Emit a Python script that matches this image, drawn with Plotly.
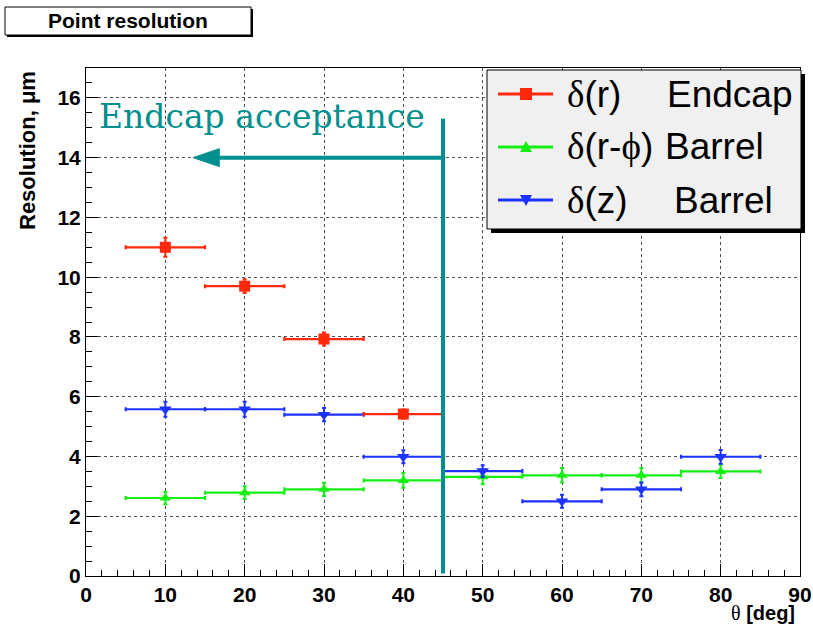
import plotly.graph_objects as go

# ---------------- data ----------------
endcap_theta = [10, 20, 30, 40]
endcap_theta_err = [5, 5, 5, 5]
endcap_r = [11.0, 9.70, 7.93, 5.42]
endcap_r_err = [0.32, 0.23, 0.22, 0.15]

barrel_theta = [10, 20, 30, 40, 50, 60, 70, 80]
barrel_theta_err = [5, 5, 5, 5, 5, 5, 5, 5]
barrel_rphi = [2.61, 2.79, 2.90, 3.20, 3.32, 3.37, 3.37, 3.50]
barrel_rphi_err = [0.21, 0.21, 0.22, 0.25, 0.25, 0.24, 0.24, 0.22]
barrel_z = [5.58, 5.58, 5.40, 3.99, 3.51, 2.50, 2.90, 3.99]
barrel_z_err = [0.25, 0.25, 0.22, 0.22, 0.20, 0.22, 0.23, 0.23]

x_tick_vals = [0, 10, 20, 30, 40, 50, 60, 70, 80, 90]
y_tick_vals = [0, 2, 4, 6, 8, 10, 12, 14, 16]

ACCEPT_EDGE = 45      # endcap acceptance edge (deg)
ACCEPT_TOP = 15.3
ARROW_Y = 14
ARROW_TIP = 13.5
ARROW_BASE = 16.8

RED = "rgb(255,40,10)"
GREEN = "rgb(20,240,20)"
BLUE = "rgb(30,50,255)"
TEAL = "rgb(0,143,143)"

# plot-area pixel box
PL, PR, PT, PB = 86, 800, 68, 576
W, H = 813, 627


def px(x):
    return (x - PL) / (PR - PL)


def py(y):
    return (PB - y) / (PB - PT)


fig = go.Figure()


def add_series(x, xe, y, ye, color, symbol, size, name):
    fig.add_trace(go.Scatter(
        x=x, y=y, mode="markers", name=name, showlegend=False,
        marker=dict(color=color, symbol=symbol, size=size, line=dict(width=0)),
        error_x=dict(type="data", array=xe, color=color, thickness=2.2, width=2),
        error_y=dict(type="data", array=ye, color=color, thickness=2, width=2),
    ))


add_series(barrel_theta, barrel_theta_err, barrel_rphi, barrel_rphi_err, GREEN, "triangle-up", 10, "δ(r-ϕ) Barrel")
add_series(barrel_theta, barrel_theta_err, barrel_z, barrel_z_err, BLUE, "triangle-down", 11, "δ(z) Barrel")
add_series(endcap_theta, endcap_theta_err, endcap_r, endcap_r_err, RED, "square", 11, "δ(r) Endcap")

shapes = []
# acceptance line and arrow
shapes.append(dict(type="line", xref="x", yref="y", x0=ACCEPT_EDGE, x1=ACCEPT_EDGE, y0=0.08, y1=ACCEPT_TOP,
                   line=dict(color=TEAL, width=4)))
shapes.append(dict(type="line", xref="x", yref="y", x0=ACCEPT_EDGE, x1=ARROW_BASE, y0=ARROW_Y, y1=ARROW_Y,
                   line=dict(color=TEAL, width=4)))
shapes.append(dict(type="path", xref="x", yref="y",
                   path=f"M {ARROW_TIP},{ARROW_Y} L {ARROW_BASE},{ARROW_Y + 0.3} L {ARROW_BASE},{ARROW_Y - 0.3} Z",
                   fillcolor=TEAL, line=dict(color=TEAL, width=1)))

# title box
shapes.append(dict(type="rect", xref="paper", yref="paper", x0=px(7), x1=px(253), y0=py(37), y1=py(9),
                   fillcolor="black", line=dict(width=0)))
shapes.append(dict(type="rect", xref="paper", yref="paper", x0=px(5), x1=px(251), y0=py(35), y1=py(7),
                   fillcolor="white", line=dict(color="black", width=1)))

# legend box
shapes.append(dict(type="rect", xref="paper", yref="paper", x0=px(491), x1=px(805), y0=py(233), y1=py(74),
                   fillcolor="black", line=dict(width=0)))
shapes.append(dict(type="rect", xref="paper", yref="paper", x0=px(487), x1=px(801), y0=py(229), y1=py(70),
                   fillcolor="rgb(240,240,240)", line=dict(color="black", width=1)))

rows = [94, 147, 200]
cols = [RED, GREEN, BLUE]
for ry, c in zip(rows, cols):
    shapes.append(dict(type="line", xref="paper", yref="paper", x0=px(498), x1=px(553), y0=py(ry), y1=py(ry),
                       line=dict(color=c, width=3)))
# legend markers
mx = 526
s = 6
shapes.append(dict(type="path", xref="paper", yref="paper",
                   path=f"M {px(mx-s)},{py(rows[0]-s)} L {px(mx+s)},{py(rows[0]-s)} L {px(mx+s)},{py(rows[0]+s)} L {px(mx-s)},{py(rows[0]+s)} Z",
                   fillcolor=RED, line=dict(width=0)))
t = 6
shapes.append(dict(type="path", xref="paper", yref="paper",
                   path=f"M {px(mx)},{py(rows[1]-t)} L {px(mx+t)},{py(rows[1]+t-1)} L {px(mx-t)},{py(rows[1]+t-1)} Z",
                   fillcolor=GREEN, line=dict(width=0)))
shapes.append(dict(type="path", xref="paper", yref="paper",
                   path=f"M {px(mx)},{py(rows[2]+t)} L {px(mx+t)},{py(rows[2]-t+1)} L {px(mx-t)},{py(rows[2]-t+1)} Z",
                   fillcolor=BLUE, line=dict(width=0)))

SERIF = "font-family:'Liberation Serif'"
ann = []


def label(x, y, text, size, xanchor="left", yanchor="middle", family="Liberation Sans", weight="normal",
          color="black", angle=0):
    ann.append(dict(xref="paper", yref="paper", x=px(x), y=py(y), text=text, showarrow=False,
                    xanchor=xanchor, yanchor=yanchor, textangle=angle,
                    font=dict(family=family, size=size, color=color, weight=weight)))


label(565, rows[0], f"<span style=\"{SERIF}\">δ</span>(r)", 37)
label(665, rows[0], "Endcap", 37)
label(565, rows[1], f"<span style=\"{SERIF}\">δ</span>(r-<span style=\"{SERIF}\">ϕ</span>)", 37)
label(663, rows[1], "Barrel", 37)
label(565, rows[2], f"<span style=\"{SERIF}\">δ</span>(z)", 37)
label(672, rows[2], "Barrel", 37)

label(128, 21, "Point resolution", 21, xanchor="center", weight="bold")
label(27, 151, "Resolution, μm", 22, xanchor="center", weight="bold", angle=-90)
label(797, 613, f"<span style=\"{SERIF};font-weight:normal\">θ</span> [deg]", 20, xanchor="right", weight="bold")
label(97, 116, "Endcap acceptance", 33, family="DejaVu Serif", color=TEAL)

axis_common = dict(
    ticks="inside", ticklen=12, tickwidth=1, tickcolor="black",
    showline=True, linecolor="black", linewidth=1, mirror=True,
    showgrid=True, gridcolor="rgb(80,80,80)", griddash="dot", gridwidth=1,
    zeroline=False, automargin=False,
    tickfont=dict(family="Liberation Sans", size=21, color="black", weight="bold"),
)

fig.update_layout(
    width=W, height=H,
    margin=dict(l=PL, r=W - PR, t=PT, b=H - PB, pad=0),
    paper_bgcolor="white", plot_bgcolor="white",
    xaxis=dict(range=[0, 90], tickvals=x_tick_vals,
               minor=dict(dtick=2, ticks="inside", ticklen=6, tickcolor="black", showgrid=False),
               **axis_common),
    yaxis=dict(range=[0, 17], tickvals=y_tick_vals,
               minor=dict(dtick=0.5, ticks="inside", ticklen=6, tickcolor="black", showgrid=False),
               **axis_common),
    shapes=shapes,
    annotations=ann,
    showlegend=False,
)

fig.write_html("out.html")
